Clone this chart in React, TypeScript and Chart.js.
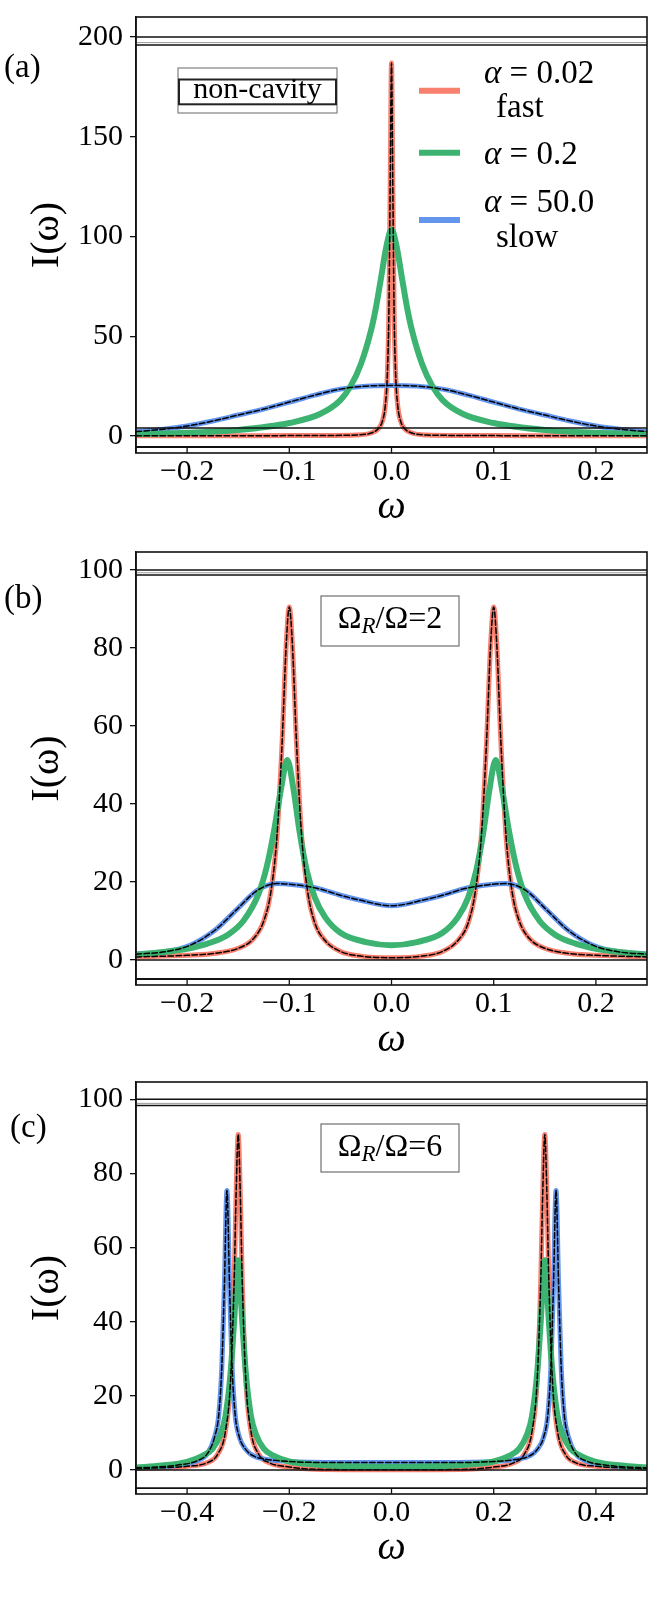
import React, { useEffect, useRef } from "react";
import { Chart, registerables } from "chart.js";

Chart.register(...registerables);

// ---------------- data ----------------
// Panel (a): non-cavity
const omegaA_fast = [-0.25, -0.2, -0.15, -0.1, -0.06, -0.035, -0.02, -0.013, -0.009, -0.006, -0.004, -0.0025, -0.0012, 0, 0.0012, 0.0025, 0.004, 0.006, 0.009, 0.013, 0.02, 0.035, 0.06, 0.1, 0.15, 0.2, 0.25];
const intensityA_fast = [0.1, 0.1, 0.15, 0.2, 0.3, 0.5, 1.5, 3.6, 7.3, 15.6, 31.7, 64, 130, 187, 130, 64, 31.7, 15.6, 7.3, 3.6, 1.5, 0.5, 0.3, 0.2, 0.15, 0.1, 0.1];
const omegaA_mid = [-0.25, -0.2, -0.15, -0.1, -0.07, -0.05, -0.04, -0.03, -0.02, -0.015, -0.01, -0.005, 0, 0.005, 0.01, 0.015, 0.02, 0.03, 0.04, 0.05, 0.07, 0.1, 0.15, 0.2, 0.25];
const intensityA_mid = [1.0, 1.6, 3.0, 6.5, 11, 18, 25, 36, 53, 65, 80, 95, 103.5, 95, 80, 65, 53, 36, 25, 18, 11, 6.5, 3.0, 1.6, 1.0];
const omegaA_slow = [-0.25, -0.225, -0.2, -0.175, -0.15, -0.125, -0.1, -0.075, -0.05, -0.025, 0, 0.025, 0.05, 0.075, 0.1, 0.125, 0.15, 0.175, 0.2, 0.225, 0.25];
const intensityA_slow = [2.2, 3.3, 5, 7.5, 10.5, 13.5, 17, 20.5, 23.5, 25, 25.3, 25, 23.5, 20.5, 17, 13.5, 10.5, 7.5, 5, 3.3, 2.2];

// Panel (b): Omega_R/Omega = 2
const omegaB_fast = [-0.25, -0.2, -0.17, -0.15, -0.135, -0.125, -0.118, -0.112, -0.107, -0.103, -0.1, -0.097, -0.093, -0.088, -0.082, -0.075, -0.065, -0.05, -0.03, 0, 0.03, 0.05, 0.065, 0.075, 0.082, 0.088, 0.093, 0.097, 0.1, 0.103, 0.107, 0.112, 0.118, 0.125, 0.135, 0.15, 0.17, 0.2, 0.25];
const intensityB_fast = [0.8, 1.2, 1.8, 3, 5.5, 10, 17.5, 32, 56, 81, 90.5, 81, 56, 32, 17.5, 9.5, 5, 2.2, 1.0, 0.6, 1.0, 2.2, 5, 9.5, 17.5, 32, 56, 81, 90.5, 81, 56, 32, 17.5, 10, 5.5, 3, 1.8, 1.2, 0.8];
const omegaB_mid = [-0.25, -0.225, -0.2, -0.18, -0.16, -0.145, -0.13, -0.122, -0.115, -0.108, -0.102, -0.096, -0.09, -0.083, -0.075, -0.065, -0.05, -0.025, 0, 0.025, 0.05, 0.065, 0.075, 0.083, 0.09, 0.096, 0.102, 0.108, 0.115, 0.122, 0.13, 0.145, 0.16, 0.18, 0.2, 0.225, 0.25];
const intensityB_mid = [1.4, 2, 2.9, 4.2, 6.5, 10, 17, 24, 33, 44, 51.3, 44, 33, 23, 16, 11, 7, 4.6, 3.8, 4.6, 7, 11, 16, 23, 33, 44, 51.3, 44, 33, 24, 17, 10, 6.5, 4.2, 2.9, 2, 1.4];
const omegaB_slow = [-0.25, -0.222, -0.197, -0.1725, -0.152, -0.131, -0.112, -0.095, -0.073, -0.05, -0.0315, 0, 0.0315, 0.05, 0.073, 0.095, 0.112, 0.131, 0.152, 0.1725, 0.197, 0.222, 0.25];
const intensityB_slow = [1.5, 2.1, 3.8, 7.7, 12.8, 17.9, 19.6, 19.3, 18.4, 16.6, 15.4, 13.9, 15.4, 16.6, 18.4, 19.3, 19.6, 17.9, 12.8, 7.7, 3.8, 2.1, 1.5];

// Panel (c): Omega_R/Omega = 6
const omegaC_fast = [-0.5, -0.45, -0.4, -0.36, -0.34, -0.325, -0.315, -0.308, -0.304, -0.3, -0.296, -0.292, -0.285, -0.275, -0.26, -0.24, -0.2, -0.15, 0, 0.15, 0.2, 0.24, 0.26, 0.275, 0.285, 0.292, 0.296, 0.3, 0.304, 0.308, 0.315, 0.325, 0.34, 0.36, 0.4, 0.45, 0.5];
const intensityC_fast = [0.4, 0.6, 1.0, 2.0, 4.3, 10.4, 24, 50.5, 75, 90.5, 75, 50.5, 24, 10.4, 4.3, 2.0, 0.8, 0.2, 0.05, 0.2, 0.8, 2.0, 4.3, 10.4, 24, 50.5, 75, 90.5, 75, 50.5, 24, 10.4, 4.3, 2.0, 1.0, 0.6, 0.4];
const omegaC_mid = [-0.5, -0.45, -0.4, -0.37, -0.35, -0.335, -0.325, -0.315, -0.308, -0.3, -0.292, -0.285, -0.275, -0.265, -0.25, -0.23, -0.2, -0.15, -0.1, 0, 0.1, 0.15, 0.2, 0.23, 0.25, 0.265, 0.275, 0.285, 0.292, 0.3, 0.308, 0.315, 0.325, 0.335, 0.35, 0.37, 0.4, 0.45, 0.5];
const intensityC_mid = [0.7, 1.2, 2.2, 3.8, 5.8, 9.5, 14.5, 26, 40, 56.6, 40, 26, 14.5, 9.5, 5.8, 3.8, 2.3, 1.5, 1.1, 0.9, 1.1, 1.5, 2.3, 3.8, 5.8, 9.5, 14.5, 26, 40, 56.6, 40, 26, 14.5, 9.5, 5.8, 3.8, 2.2, 1.2, 0.7];
const omegaC_slow = [-0.5, -0.46, -0.42, -0.38, -0.36, -0.346, -0.338, -0.332, -0.327, -0.322, -0.317, -0.312, -0.306, -0.298, -0.285, -0.27, -0.25, -0.2, -0.1, 0, 0.1, 0.2, 0.25, 0.27, 0.285, 0.298, 0.306, 0.312, 0.317, 0.322, 0.327, 0.332, 0.338, 0.346, 0.36, 0.38, 0.42, 0.46, 0.5];
const intensityC_slow = [0.6, 0.8, 1.3, 2.5, 4.5, 9, 15, 28, 50, 75.4, 50, 28, 15, 9, 5.5, 3.8, 3.0, 2.3, 2.0, 2.0, 2.0, 2.3, 3.0, 3.8, 5.5, 9, 15, 28, 50, 75.4, 50, 28, 15, 9, 4.5, 2.5, 1.3, 0.8, 0.6];

// ticks
const yTicksA = [0, 50, 100, 150, 200];
const yTicksBC = [0, 20, 40, 60, 80, 100];
const xTicksAB = [-0.2, -0.1, 0, 0.1, 0.2];
const xTickLabelsAB = ["\u22120.2", "\u22120.1", "0.0", "0.1", "0.2"];
const xTicksC = [-0.4, -0.2, 0, 0.2, 0.4];
const xTickLabelsC = ["\u22120.4", "\u22120.2", "0.0", "0.2", "0.4"];

// legend text
const seriesLabels = ["\u03b1 = 0.02", "\u03b1 = 0.2", "\u03b1 = 50.0"];
const seriesNotes = ["fast", "", "slow"];
const panelTags = ["(a)", "(b)", "(c)"];
const panelNotes = ["non-cavity", "2", "6"];

// ---------------- styling ----------------
const RED = "#F9806F";
const GREEN = "#3CB371";
const BLUE = "#6495ED";
const FAM = '"Liberation Serif", "DejaVu Serif", serif';

const pts = (xs: number[], ys: number[]) => xs.map((x, i) => ({ x, y: ys[i] }));

function makeDatasets(wf: number[], f: number[], wm: number[], m: number[], ws: number[], s: number[]) {
  const base = {
    pointRadius: 0,
    fill: false,
    cubicInterpolationMode: "monotone",
    clip: 0,
    borderJoinStyle: "round",
    borderCapStyle: "round",
  };
  return [
    { ...base, label: seriesLabels[0], data: pts(wf, f), borderColor: RED, borderWidth: 5, order: 4 },
    { ...base, label: seriesLabels[1], data: pts(wm, m), borderColor: GREEN, borderWidth: 6, order: 2 },
    { ...base, label: seriesLabels[2], data: pts(ws, s), borderColor: BLUE, borderWidth: 5, order: 3 },
    { ...base, label: "fit fast", data: pts(wf, f), borderColor: "#000", borderWidth: 1.5, borderDash: [5.5, 2.5], order: 1 },
    { ...base, label: "fit slow", data: pts(ws, s), borderColor: "#000", borderWidth: 1.5, borderDash: [5.5, 2.5], order: 0 },
  ];
}

type Panel = {
  idx: number;
  canvasTop: number;
  canvasHeight: number;
  yMin: number;
  yMax: number;
  yTicks: number[];
  xMin: number;
  xMax: number;
  xTicks: number[];
  xLabels: string[];
  blackLines: number[];
  grayLines: number[];
  stripTop: number;
  tagX: number;
  tagBase: number;
  datasets: any[];
  legend: boolean;
  noteBaseline: number;
  noteBox: [number, number, number, number];
};

const panels: Panel[] = [
  {
    idx: 0,
    canvasTop: -9,
    canvasHeight: 540,
    yMin: -8.52,
    yMax: 210.03,
    yTicks: yTicksA,
    xMin: -0.25,
    xMax: 0.25,
    xTicks: xTicksAB,
    xLabels: xTickLabelsAB,
    blackLines: [200, 196, 4],
    grayLines: [197.2],
    stripTop: -5.5,
    tagX: 4,
    tagBase: 77,
    datasets: makeDatasets(omegaA_fast, intensityA_fast, omegaA_mid, intensityA_mid, omegaA_slow, intensityA_slow),
    legend: true,
    noteBaseline: 98.3,
    noteBox: [179, 79.5, 336, 104.3],
  },
  {
    idx: 1,
    canvasTop: 526,
    canvasHeight: 538,
    yMin: -6.41,
    yMax: 104.62,
    yTicks: yTicksBC,
    xMin: -0.25,
    xMax: 0.25,
    xTicks: xTicksAB,
    xLabels: xTickLabelsAB,
    blackLines: [100, 98.7, 0],
    grayLines: [99.3],
    stripTop: -4.87,
    tagX: 4,
    tagBase: 608,
    datasets: makeDatasets(omegaB_fast, intensityB_fast, omegaB_mid, intensityB_mid, omegaB_slow, intensityB_slow),
    legend: false,
    noteBaseline: 628.3,
    noteBox: [321, 596, 459, 646],
  },
  {
    idx: 2,
    canvasTop: 1056,
    canvasHeight: 516,
    yMin: -6.47,
    yMax: 104.67,
    yTicks: yTicksBC,
    xMin: -0.5,
    xMax: 0.5,
    xTicks: xTicksC,
    xLabels: xTickLabelsC,
    blackLines: [100, 98.3, 0],
    grayLines: [98.9],
    stripTop: -4.86,
    tagX: 10,
    tagBase: 1137,
    datasets: makeDatasets(omegaC_fast, intensityC_fast, omegaC_mid, intensityC_mid, omegaC_slow, intensityC_slow),
    legend: false,
    noteBaseline: 1156,
    noteBox: [321, 1124, 459, 1172],
  },
];

type Run = { t: string; italic?: boolean; size?: number; dy?: number };

function drawRuns(ctx: CanvasRenderingContext2D, runs: Run[], x: number, y: number, size: number, align: "left" | "center") {
  const fontOf = (r: Run) => `${r.italic ? "italic " : ""}${r.size ?? size}px ${FAM}`;
  let total = 0;
  runs.forEach((r) => {
    ctx.font = fontOf(r);
    total += ctx.measureText(r.t).width;
  });
  let cx = align === "center" ? x - total / 2 : x;
  ctx.textAlign = "left";
  ctx.textBaseline = "alphabetic";
  runs.forEach((r) => {
    ctx.font = fontOf(r);
    ctx.fillText(r.t, cx, y + (r.dy ?? 0));
    cx += ctx.measureText(r.t).width;
  });
}

function labelRuns(label: string): Run[] {
  if (label.startsWith("\u03b1")) return [{ t: "\u03b1", italic: true }, { t: label.slice(1) }];
  return [{ t: label }];
}

function decorPlugin(p: Panel) {
  const off = p.canvasTop;
  return {
    id: "decor" + p.idx,
    afterDatasetsDraw(chart: any) {
      const { ctx, chartArea: ca, scales } = chart;
      const x = scales.x;
      const y = scales.y;
      ctx.save();
      const hline = (v: number, color: string, w: number) => {
        const py = y.getPixelForValue(v);
        ctx.strokeStyle = color;
        ctx.lineWidth = w;
        ctx.beginPath();
        ctx.moveTo(ca.left, py);
        ctx.lineTo(ca.right, py);
        ctx.stroke();
      };
      p.grayLines.forEach((v) => hline(v, "#9a9a9a", 1));
      p.blackLines.forEach((v) => hline(v, "#111", 1.5));
      hline(p.stripTop, "#111", 1.8);
      // x tick marks inside the bottom strip
      const sTop = y.getPixelForValue(p.stripTop);
      ctx.strokeStyle = "#111";
      ctx.lineWidth = 1.3;
      p.xTicks.forEach((t) => {
        const px = x.getPixelForValue(t);
        ctx.beginPath();
        ctx.moveTo(px, ca.bottom);
        ctx.lineTo(px, sTop);
        ctx.stroke();
      });
      // frame
      ctx.lineWidth = 1.6;
      ctx.strokeStyle = "#111";
      ctx.strokeRect(ca.left, ca.top, ca.right - ca.left, ca.bottom - ca.top);
      ctx.restore();
    },
    afterDraw(chart: any) {
      const { ctx } = chart;
      ctx.save();
      ctx.fillStyle = "#000";
      // panel tag
      drawRuns(ctx, [{ t: panelTags[p.idx] }], p.tagX, p.tagBase - off, 33, "left");
      // note box
      const [x0, y0, x1, y1] = p.noteBox;
      if (p.idx === 0) {
        ctx.fillStyle = "#fff";
        ctx.fillRect(178, 68 - off, 159, 45);
        ctx.strokeStyle = "#808080";
        ctx.lineWidth = 1.2;
        ctx.strokeRect(178, 68 - off, 159, 45);
        ctx.strokeStyle = "#222";
        ctx.lineWidth = 2;
        ctx.strokeRect(x0, y0 - off, x1 - x0, y1 - y0);
        ctx.fillStyle = "#000";
        drawRuns(ctx, [{ t: panelNotes[0] }], (x0 + x1) / 2, p.noteBaseline - off, 30, "center");
      } else {
        ctx.fillStyle = "#fff";
        ctx.fillRect(x0, y0 - off, x1 - x0, y1 - y0);
        ctx.strokeStyle = "#707070";
        ctx.lineWidth = 1.2;
        ctx.strokeRect(x0, y0 - off, x1 - x0, y1 - y0);
        ctx.fillStyle = "#000";
        drawRuns(
          ctx,
          [{ t: "\u03a9" }, { t: "R", italic: true, size: 23, dy: 5 }, { t: "/\u03a9=" + panelNotes[p.idx] }],
          (x0 + x1) / 2,
          p.noteBaseline - off,
          32,
          "center"
        );
      }
      // legend
      if (p.legend) {
        const ds = chart.data.datasets;
        const handleY = [90.7, 152.7, 220];
        const base1 = [83.3, 164, 211.7];
        const base2 = [117, 0, 246.7];
        for (let i = 0; i < 3; i++) {
          ctx.strokeStyle = ds[i].borderColor;
          ctx.lineWidth = 6;
          ctx.lineCap = "butt";
          ctx.beginPath();
          ctx.moveTo(419, handleY[i] - off);
          ctx.lineTo(460, handleY[i] - off);
          ctx.stroke();
          ctx.fillStyle = "#000";
          drawRuns(ctx, labelRuns(ds[i].label), 484, base1[i] - off, 33, "left");
          if (seriesNotes[i]) drawRuns(ctx, [{ t: seriesNotes[i] }], 496, base2[i] - off, 33, "left");
        }
      }
      ctx.restore();
    },
  };
}

function PanelChart({ p }: { p: Panel }) {
  const ref = useRef<HTMLCanvasElement | null>(null);
  useEffect(() => {
    const chart = new Chart(ref.current as HTMLCanvasElement, {
      type: "line",
      data: { datasets: p.datasets },
      options: {
        responsive: false,
        animation: false,
        devicePixelRatio: 1,
        layout: { padding: { top: 26, right: 18, left: 0, bottom: 0 } },
        plugins: { legend: { display: false }, tooltip: { enabled: false } },
        scales: {
          x: {
            type: "linear",
            min: p.xMin,
            max: p.xMax,
            afterBuildTicks: (s: any) => {
              s.ticks = p.xTicks.map((v) => ({ value: v }));
            },
            afterFit: (s: any) => {
              s.height = p.canvasHeight - 26 - (p.idx === 0 ? 436 : p.idx === 1 ? 433 : 412);
            },
            grid: { display: false, drawTicks: false },
            border: { display: false },
            ticks: {
              autoSkip: false,
              maxRotation: 0,
              padding: 1,
              color: "#000",
              font: { family: FAM, size: 30 },
              callback: (_v: any, i: number) => p.xLabels[i],
            },
            title: {
              display: true,
              text: "\u03c9",
              color: "#000",
              font: { family: FAM, size: 40, style: "italic" },
              padding: { top: 0, bottom: 0 },
            },
          },
          y: {
            type: "linear",
            min: p.yMin,
            max: p.yMax,
            afterBuildTicks: (s: any) => {
              s.ticks = p.yTicks.map((v) => ({ value: v }));
            },
            afterFit: (s: any) => {
              s.width = 136;
            },
            grid: { display: true, drawOnChartArea: false, drawTicks: true, tickLength: 6, color: "#111", lineWidth: 1.3 },
            border: { display: true, color: "#111", width: 1.5 },
            ticks: {
              padding: 7,
              color: "#000",
              font: { family: FAM, size: 30 },
              callback: (v: any) => String(v),
            },
            title: {
              display: true,
              text: "I(\u03c9)",
              color: "#000",
              font: { family: FAM, size: 40 },
              padding: { top: 23, bottom: 0 },
            },
          },
        },
      } as any,
      plugins: [decorPlugin(p)],
    } as any);
    return () => chart.destroy();
  }, []);
  return (
    <div style={{ position: "absolute", left: 0, top: p.canvasTop, width: 665, height: p.canvasHeight }}>
      <canvas ref={ref} width={665} height={p.canvasHeight} style={{ display: "block", width: 665, height: p.canvasHeight }} />
    </div>
  );
}

export default function App() {
  return (
    <div style={{ position: "absolute", left: 0, top: 0, width: 665, height: 1600, background: "#fff", overflow: "hidden" }}>
      {panels.map((p) => (
        <PanelChart key={p.idx} p={p} />
      ))}
    </div>
  );
}
